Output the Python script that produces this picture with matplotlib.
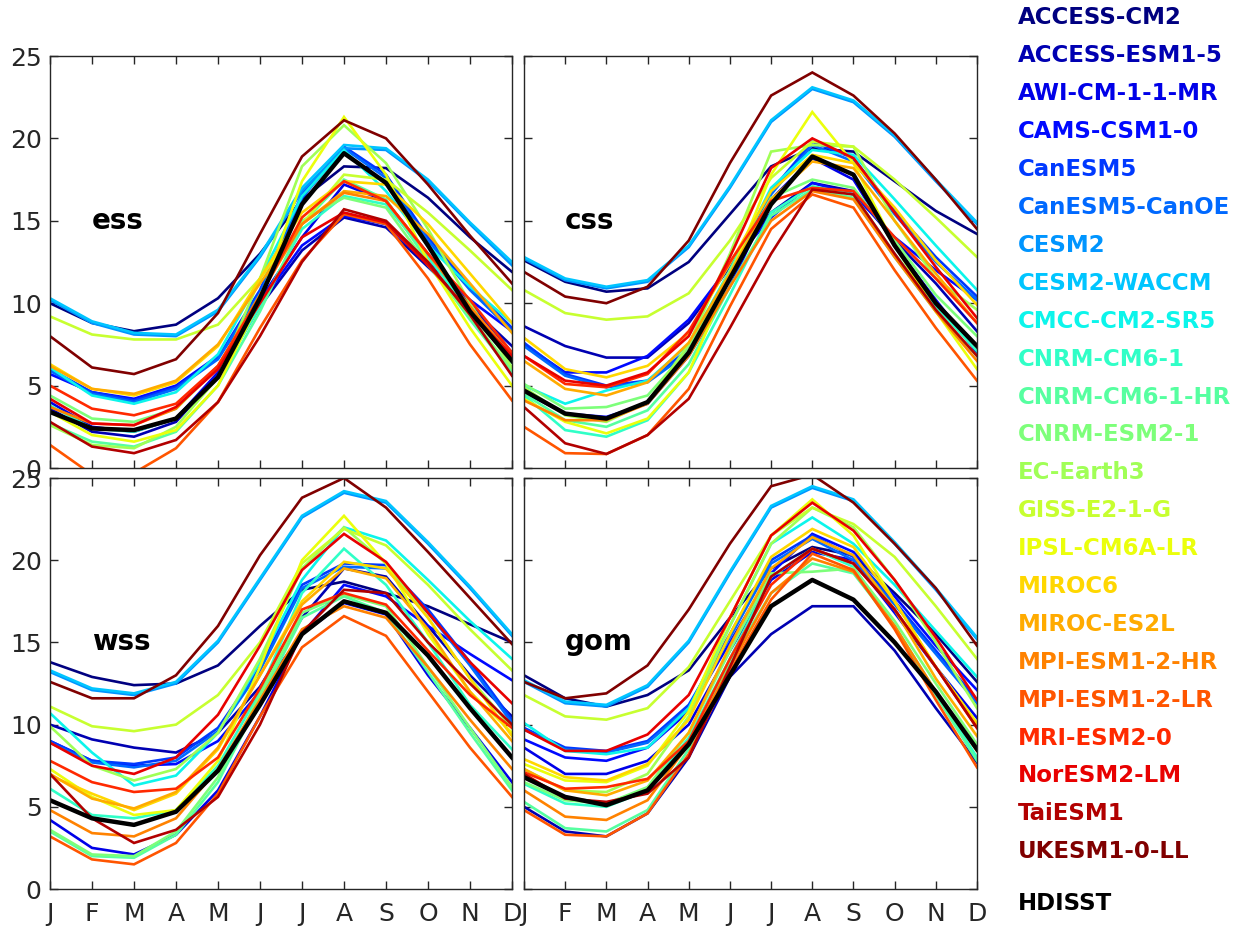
import matplotlib
matplotlib.use("Agg")
import matplotlib.pyplot as plt
import numpy as np

months = ["J", "F", "M", "A", "M", "J", "J", "A", "S", "O", "N", "D"]
models = ["ACCESS-CM2", "ACCESS-ESM1-5", "AWI-CM-1-1-MR", "CAMS-CSM1-0", "CanESM5",
          "CanESM5-CanOE", "CESM2", "CESM2-WACCM", "CMCC-CM2-SR5", "CNRM-CM6-1",
          "CNRM-CM6-1-HR", "CNRM-ESM2-1", "EC-Earth3", "GISS-E2-1-G", "IPSL-CM6A-LR",
          "MIROC6", "MIROC-ES2L", "MPI-ESM1-2-HR", "MPI-ESM1-2-LR", "MRI-ESM2-0",
          "NorESM2-LM", "TaiESM1", "UKESM1-0-LL"]
obs_name = "HDISST"
regions = ["ess", "css", "wss", "gom"]

ess_obs = [3.4, 2.4, 2.3, 3.0, 5.5, 10.3, 16.0, 19.1, 17.3, 13.5, 9.5, 6.5]
ess = [
    [10.0, 8.8, 8.3, 8.7, 10.3, 13.0, 16.3, 18.3, 18.2, 16.4, 14.0, 11.9],
    [3.6, 2.2, 1.9, 2.8, 5.6, 9.8, 13.2, 15.2, 14.6, 12.2, 9.8, 7.4],
    [4.0, 2.5, 2.2, 3.0, 5.8, 10.2, 14.0, 17.2, 16.2, 13.0, 10.0, 7.0],
    [5.7, 4.6, 4.2, 5.0, 6.8, 10.0, 13.5, 15.3, 14.8, 12.5, 10.2, 8.3],
    [6.0, 4.6, 4.1, 4.9, 6.7, 10.8, 16.6, 19.5, 17.8, 14.0, 11.0, 8.5],
    [5.9, 4.5, 4.0, 4.8, 6.6, 10.6, 16.4, 19.4, 17.6, 13.8, 10.8, 8.3],
    [10.2, 8.8, 8.1, 8.0, 9.5, 12.8, 16.8, 19.4, 19.3, 17.4, 14.8, 12.3],
    [10.3, 8.9, 8.2, 8.1, 9.6, 12.9, 17.0, 19.6, 19.4, 17.5, 14.9, 12.5],
    [6.1, 4.4, 3.9, 4.6, 6.9, 11.5, 16.5, 19.3, 16.8, 13.5, 11.0, 8.8],
    [3.8, 2.4, 2.2, 3.0, 5.5, 9.8, 14.5, 16.5, 16.0, 12.8, 9.5, 6.4],
    [2.7, 1.6, 1.3, 2.2, 5.0, 9.5, 14.8, 17.5, 16.3, 12.5, 9.0, 5.8],
    [4.4, 3.0, 2.8, 3.6, 6.1, 10.5, 15.0, 16.4, 15.8, 12.3, 9.2, 6.0],
    [2.6, 1.4, 1.2, 2.5, 5.5, 11.5, 18.3, 20.8, 18.5, 14.5, 10.0, 6.1],
    [9.2, 8.1, 7.8, 7.8, 8.7, 11.5, 14.8, 17.8, 17.5, 15.5, 13.2, 10.8],
    [3.4, 2.0, 1.6, 2.3, 5.0, 10.2, 17.4, 21.3, 17.8, 12.5, 8.5, 5.0],
    [6.3, 4.8, 4.4, 5.2, 7.4, 11.5, 15.5, 17.4, 17.2, 14.8, 11.8, 8.8],
    [6.2, 4.8, 4.5, 5.3, 7.5, 11.2, 14.8, 16.8, 16.5, 14.2, 11.2, 8.2],
    [3.7, 2.7, 2.6, 3.6, 6.2, 10.5, 14.8, 16.7, 16.2, 13.0, 9.8, 6.8],
    [1.4, -0.4, -0.3, 1.2, 4.0, 8.5, 12.6, 15.4, 14.8, 11.5, 7.5, 4.1],
    [5.0, 3.6, 3.2, 3.9, 6.2, 10.4, 15.2, 17.4, 16.2, 13.0, 10.2, 7.0],
    [4.2, 2.7, 2.6, 3.7, 6.0, 10.0, 14.0, 15.5, 14.9, 12.3, 9.5, 6.8],
    [2.8, 1.3, 0.9, 1.7, 4.0, 8.0, 12.5, 15.7, 15.0, 12.5, 9.3, 5.6],
    [8.0, 6.1, 5.7, 6.6, 9.4, 14.2, 18.9, 21.1, 20.0, 17.2, 14.1, 11.2],
]

css_obs = [4.7, 3.3, 3.0, 4.0, 7.0, 11.5, 16.0, 18.9, 17.8, 13.5, 10.0, 7.4]
css = [
    [12.6, 11.3, 10.7, 10.9, 12.5, 15.4, 18.3, 19.4, 19.2, 17.4, 15.6, 14.2],
    [8.6, 7.4, 6.7, 6.7, 8.8, 12.2, 15.5, 17.3, 16.8, 13.8, 11.2, 8.3],
    [4.6, 3.3, 3.1, 3.9, 6.8, 11.0, 16.3, 18.8, 17.5, 13.5, 10.2, 7.0],
    [7.5, 5.8, 5.8, 6.8, 9.0, 12.3, 15.2, 17.3, 16.6, 14.0, 12.0, 10.2],
    [7.6, 5.7, 5.0, 5.3, 7.2, 11.6, 16.8, 19.8, 18.8, 15.6, 12.8, 10.4],
    [7.4, 5.6, 4.9, 5.2, 7.0, 11.4, 16.6, 19.6, 18.6, 15.4, 12.5, 10.2],
    [12.7, 11.4, 10.9, 11.3, 13.4, 17.0, 21.0, 23.0, 22.2, 20.1, 17.4, 14.8],
    [12.8, 11.5, 11.0, 11.4, 13.5, 17.1, 21.1, 23.1, 22.3, 20.2, 17.5, 14.9],
    [5.0, 3.9, 4.7, 5.3, 7.5, 12.0, 17.0, 19.3, 19.0, 16.3, 13.5, 10.8],
    [4.4, 2.3, 1.9, 2.9, 5.8, 10.5, 15.5, 17.1, 16.6, 13.0, 9.8, 7.1],
    [4.5, 2.9, 2.5, 3.5, 6.3, 11.0, 15.3, 16.9, 16.4, 12.8, 9.5, 6.8],
    [5.1, 3.6, 3.7, 4.4, 7.2, 12.0, 16.4, 17.5, 17.0, 13.8, 10.5, 8.0],
    [4.9, 3.2, 2.8, 4.0, 7.5, 13.0, 19.2, 19.6, 19.5, 15.0, 11.5, 9.6],
    [10.8, 9.4, 9.0, 9.2, 10.6, 13.8, 17.6, 19.8, 19.5, 17.5, 15.2, 12.8],
    [4.2, 2.8, 2.1, 3.0, 5.8, 11.6, 17.8, 21.6, 18.5, 13.5, 9.5, 6.0],
    [7.9, 6.0, 5.5, 6.2, 8.2, 12.4, 16.8, 19.0, 18.5, 15.8, 12.6, 9.9],
    [6.5, 4.8, 4.4, 5.2, 7.6, 11.8, 16.3, 18.6, 18.2, 15.0, 11.8, 8.8],
    [4.1, 2.9, 2.9, 3.9, 6.8, 11.0, 15.0, 16.8, 16.3, 12.8, 9.5, 6.5],
    [2.5, 0.9, 0.85, 2.0, 4.8, 9.8, 14.5, 16.6, 15.8, 12.0, 8.5, 5.3],
    [6.8, 5.1, 4.9, 5.7, 8.3, 12.5, 16.2, 17.0, 16.8, 14.0, 11.5, 8.8],
    [6.8, 5.3, 5.0, 5.8, 8.0, 12.8, 18.2, 20.0, 18.8, 15.5, 12.2, 9.1],
    [3.7, 1.5, 0.85, 2.0, 4.2, 8.5, 13.0, 16.9, 16.6, 13.0, 9.6, 6.8],
    [11.9, 10.4, 10.0, 11.0, 13.8, 18.5, 22.6, 24.0, 22.6, 20.3, 17.5, 14.5],
]

wss_obs = [5.4, 4.3, 3.9, 4.7, 7.2, 11.2, 15.5, 17.5, 16.8, 14.2, 11.0, 8.0]
wss = [
    [13.8, 12.9, 12.4, 12.5, 13.6, 16.0, 18.2, 18.7, 18.0, 17.2, 16.1, 15.0],
    [10.0, 9.1, 8.6, 8.3, 9.5, 12.3, 16.5, 19.5, 19.0, 16.0, 13.0, 10.5],
    [4.2, 2.5, 2.1, 3.3, 6.0, 10.5, 15.5, 17.4, 16.7, 13.0, 9.8, 6.5],
    [9.0, 7.8, 7.5, 7.6, 9.0, 12.0, 15.5, 18.5, 17.8, 16.0, 14.3, 12.7],
    [9.0, 7.8, 7.6, 8.0, 9.8, 13.5, 18.5, 19.8, 19.7, 17.0, 13.8, 10.3],
    [8.9, 7.7, 7.4, 7.8, 9.6, 13.3, 18.3, 19.6, 19.5, 16.8, 13.6, 10.1],
    [13.2, 12.1, 11.8, 12.5, 15.0, 18.8, 22.6, 24.1, 23.5, 21.0, 18.3, 15.4],
    [13.3, 12.2, 11.9, 12.6, 15.1, 18.9, 22.7, 24.2, 23.6, 21.1, 18.4, 15.5],
    [10.7, 8.3, 6.3, 6.9, 9.5, 13.8, 18.8, 22.0, 21.2, 18.8, 16.3, 14.0],
    [6.1, 4.5, 4.3, 4.8, 7.5, 12.0, 18.0, 20.7, 18.5, 15.0, 11.2, 8.5],
    [3.5, 2.0, 1.9, 3.3, 6.5, 11.5, 16.5, 17.8, 16.8, 13.2, 9.5, 6.0],
    [3.6, 2.1, 2.0, 3.5, 6.8, 11.8, 16.8, 17.9, 17.2, 13.5, 9.8, 6.2],
    [9.9, 7.5, 6.6, 7.3, 9.5, 14.0, 19.5, 22.0, 19.8, 16.5, 12.8, 9.8],
    [11.1, 9.9, 9.6, 10.0, 11.8, 15.0, 19.8, 21.9, 20.9, 18.5, 15.8, 13.3],
    [7.3, 5.6, 4.5, 4.8, 7.8, 13.5, 20.0, 22.7, 19.8, 15.5, 12.0, 9.5],
    [6.9, 5.8, 4.8, 5.8, 8.5, 13.0, 17.5, 19.9, 19.5, 16.5, 12.8, 9.3],
    [7.0, 5.5, 4.9, 5.9, 8.6, 13.0, 17.3, 19.5, 18.9, 15.8, 12.0, 9.0],
    [4.8, 3.4, 3.2, 4.3, 7.3, 11.5, 15.8, 17.2, 16.5, 13.5, 10.3, 7.3],
    [3.2, 1.8, 1.5, 2.8, 5.8, 10.5, 14.7, 16.6, 15.4, 12.0, 8.6, 5.6],
    [7.8, 6.5, 5.9, 6.1, 8.0, 12.2, 17.0, 18.0, 17.3, 14.5, 11.8, 9.8],
    [8.9, 7.5, 7.0, 8.0, 10.6, 14.8, 19.4, 21.6, 19.9, 16.8, 13.8, 11.3],
    [7.0, 4.3, 2.8, 3.6, 5.6, 10.0, 15.6, 18.2, 18.0, 15.0, 12.5, 10.0],
    [12.6, 11.6, 11.6, 13.0, 16.0, 20.3, 23.8, 25.0, 23.2, 20.5, 17.7, 14.9],
]

gom_obs = [6.8, 5.6, 5.1, 6.0, 8.8, 13.0, 17.2, 18.8, 17.6, 15.0, 12.0, 8.5]
gom = [
    [13.0, 11.6, 11.1, 11.8, 13.3, 16.5, 19.5, 20.8, 20.3, 18.0, 15.5, 12.6],
    [5.0, 3.5, 3.2, 4.6, 8.0, 12.9, 15.5, 17.2, 17.2, 14.5, 11.0, 7.7],
    [8.6, 7.0, 7.0, 7.8, 10.0, 14.5, 18.8, 20.5, 20.0, 16.8, 13.5, 10.4],
    [9.1, 8.0, 7.8, 8.6, 10.8, 15.0, 19.2, 21.6, 20.5, 17.8, 14.8, 12.1],
    [9.8, 8.6, 8.4, 9.0, 11.2, 15.5, 20.0, 21.5, 20.2, 17.5, 14.5, 11.5],
    [9.7, 8.5, 8.3, 8.9, 11.0, 15.3, 19.8, 21.3, 20.0, 17.3, 14.3, 11.3],
    [12.6, 11.3, 11.1, 12.3, 15.0, 19.2, 23.2, 24.4, 23.6, 21.0, 18.2, 15.2],
    [12.7, 11.4, 11.2, 12.4, 15.1, 19.3, 23.3, 24.5, 23.7, 21.1, 18.3, 15.3],
    [10.1, 8.4, 8.2, 8.6, 11.0, 16.0, 21.0, 22.6, 21.0, 18.5, 15.7, 12.9],
    [6.4, 5.2, 5.0, 6.0, 9.2, 14.0, 19.0, 20.7, 19.6, 16.0, 12.0, 8.0],
    [5.3, 3.7, 3.5, 4.8, 8.5, 13.8, 18.0, 19.8, 19.2, 16.0, 11.8, 7.8],
    [6.5, 5.4, 5.2, 6.2, 9.5, 14.5, 19.2, 19.3, 19.5, 16.3, 12.5, 8.8],
    [7.3, 6.0, 5.9, 7.0, 10.5, 16.0, 21.0, 23.2, 22.0, 18.8, 15.0, 11.0],
    [11.8, 10.5, 10.3, 11.0, 13.5, 17.5, 21.5, 23.2, 22.2, 20.2, 17.2, 14.0],
    [7.6, 6.6, 6.5, 7.5, 10.8, 16.5, 21.5, 23.7, 21.5, 17.5, 13.5, 10.1],
    [7.9, 6.8, 6.6, 7.6, 10.3, 15.5, 20.2, 21.9, 20.8, 17.5, 13.5, 10.0],
    [7.3, 6.0, 5.7, 6.6, 9.5, 14.8, 19.5, 21.4, 20.3, 17.0, 12.8, 9.3],
    [6.0, 4.4, 4.2, 5.4, 8.8, 13.5, 18.0, 20.1, 19.3, 16.0, 12.0, 8.4],
    [4.8, 3.3, 3.2, 4.6, 8.2, 13.2, 17.6, 20.4, 19.4, 15.8, 11.5, 7.4],
    [7.1, 6.1, 6.2, 6.7, 9.0, 14.0, 18.5, 20.7, 19.8, 17.0, 13.5, 9.8],
    [9.7, 8.4, 8.4, 9.4, 11.8, 16.5, 21.5, 23.5, 21.8, 18.8, 15.3, 11.5],
    [7.0, 5.5, 5.3, 5.8, 8.0, 13.5, 19.0, 20.7, 19.8, 17.0, 13.5, 9.8],
    [12.6, 11.6, 11.9, 13.6, 17.0, 21.0, 24.5, 25.2, 23.5, 21.0, 18.3, 14.8],
]

region_models = [ess, css, wss, gom]
region_obs = [ess_obs, css_obs, wss_obs, gom_obs]

W, H = 1244, 930
fig = plt.figure(figsize=(W / 100, H / 100), dpi=100)
fig.patch.set_facecolor("white")

axcol = "#262626"
boxes = [
    (50, 56, 512, 468),
    (524, 56, 977, 468),
    (50, 478, 512, 889),
    (524, 478, 977, 889),
]
cmap = plt.get_cmap("jet")
colors = [cmap(i / (len(models) - 1)) for i in range(len(models))]
x = np.arange(1, 13)

for k, (x0, y0, x1, y1) in enumerate(boxes):
    ax = fig.add_axes([x0 / W, 1 - y1 / H, (x1 - x0) / W, (y1 - y0) / H])
    for i, series in enumerate(region_models[k]):
        ax.plot(x, series, color=colors[i], lw=1.9, solid_joinstyle="miter")
    ax.plot(x, region_obs[k], color="black", lw=3.2)
    ax.set_xlim(1, 12)
    ax.set_ylim(0, 25)
    ax.set_xticks(x)
    ax.set_yticks([0, 5, 10, 15, 20, 25])
    ax.tick_params(direction="in", length=6, width=1, colors=axcol,
                   top=True, right=True, labelsize=18)
    ax.tick_params(axis="x", pad=9)
    ax.tick_params(axis="y", pad=6)
    for s in ax.spines.values():
        s.set_color(axcol)
        s.set_linewidth(1.0)
    if k >= 2:
        ax.set_xticklabels(months)
    else:
        ax.set_xticklabels([])
    if k % 2 == 1:
        ax.set_yticklabels([])
    ax.text(2.0, 15, regions[k], fontsize=20, fontweight="bold",
            ha="left", va="center", color="black")

legend_y0 = 18
legend_dy = 37.9
for i, name in enumerate(models):
    fig.text(1018 / W, 1 - (legend_y0 + i * legend_dy) / H, name,
             color=colors[i], fontsize=16.5, fontweight="bold",
             ha="left", va="center")
fig.text(1018 / W, 1 - 903 / H, obs_name, color="black", fontsize=16.5,
         fontweight="bold", ha="left", va="center")

fig.savefig("out.png", dpi=100, facecolor="white")
